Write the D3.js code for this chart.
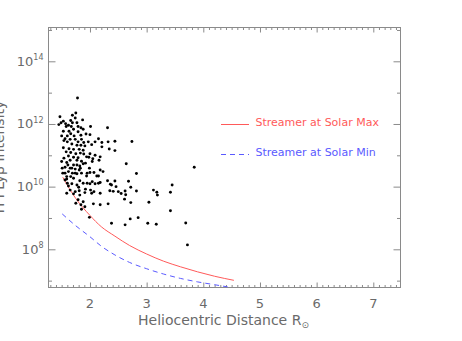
<!DOCTYPE html>
<html>
<head>
<script src="https://cdn.jsdelivr.net/npm/d3@7"></script>
<style>
body {margin: 0; background-color: #fff; overflow: hidden;}
text {font-family: "DejaVu Sans", sans-serif;}
</style>
</head>
<body>
<div id="canvas"></div>
<script>

// x ticks (heliocentric distance) and y ticks (powers of ten)
var xMajor = [2, 3, 4, 5, 6, 7];
var yMajorExp = [8, 10, 12, 14];
var yMinorExp = [7, 9, 11, 13, 15];

// model curves, log10 of intensity
var maxR    = [1.52, 1.75, 2.0, 2.2, 2.44, 2.7, 3.0, 3.3, 3.6, 3.9, 4.2, 4.54];
var maxLogI = [10.30, 9.62, 9.08, 8.72, 8.42, 8.12, 7.85, 7.62, 7.44, 7.28, 7.14, 7.01];
var minR    = [1.51, 1.75, 2.0, 2.2, 2.44, 2.7, 3.0, 3.3, 3.6, 3.9, 4.2, 4.43];
var minLogI = [9.13, 8.75, 8.40, 8.10, 7.82, 7.58, 7.38, 7.21, 7.07, 6.96, 6.87, 6.80];

// observations: [distance, log10 intensity]
var obs = [
[1.78,12.83],[1.75,12.35],[1.69,12.28],[1.47,12.23],[1.74,12.19],[1.87,12.13],[1.66,12.11],[1.53,12.09],
[1.49,12.04],[1.57,12.01],[1.69,12.04],[1.77,12.04],[1.45,11.98],[1.62,11.96],[1.58,11.92],[1.67,11.92],
[1.79,11.92],[1.84,11.88],[2.01,11.92],[2.31,11.88],[1.71,11.83],[1.88,11.83],[1.53,11.77],[1.63,11.77],
[1.79,11.75],[1.66,11.69],[1.93,11.68],[1.50,11.62],[1.60,11.62],[1.72,11.62],[1.84,11.64],[2.00,11.66],
[1.56,11.53],[1.65,11.51],[1.74,11.51],[1.85,11.51],[2.15,11.53],[2.21,11.41],[2.09,11.43],[1.97,11.43],
[1.89,11.41],[1.79,11.43],[1.60,11.43],[1.54,11.47],[1.68,11.36],[1.77,11.32],[1.84,11.32],[1.91,11.30],
[2.03,11.34],[2.32,11.43],[2.44,11.45],[2.44,11.15],[2.21,11.27],[1.53,11.24],[1.63,11.21],[1.71,11.19],
[1.81,11.19],[1.88,11.16],[1.58,11.11],[1.66,11.09],[1.75,11.05],[1.89,11.04],[2.00,11.05],[2.09,11.00],
[2.18,10.95],[1.62,10.98],[1.71,10.94],[1.79,10.92],[1.94,10.95],[2.05,10.89],[2.16,10.84],[1.65,10.84],
[1.77,10.84],[1.85,10.81],
[1.50,10.80],[1.59,10.77],[1.71,10.69],[1.82,10.66],[1.88,10.73],[1.56,10.62],[1.65,10.59],[1.74,10.56],
[1.81,10.53],[1.62,10.48],[1.52,10.43],[1.69,10.43],[1.77,10.41],[1.85,10.43],[2.00,10.45],[2.18,10.53],
[2.23,10.48],[1.59,10.32],[1.66,10.32],[1.94,10.34],[2.15,10.34],[1.56,10.21],[1.82,10.19],[1.88,10.11],
[2.00,10.09],[2.09,10.09],[2.18,10.13],[2.31,10.19],[2.38,10.05],[2.46,10.00],[1.60,10.11],[1.68,10.09],
[1.77,10.05],[1.65,9.89],[1.74,9.84],[1.81,9.87],[1.91,9.81],[2.03,9.79],[2.18,9.79],[2.35,9.87],
[2.50,9.84],[1.59,9.79],[1.71,9.77],[1.82,9.73],[1.79,9.58],[1.75,9.47],[1.88,9.52],[1.84,9.42],
[1.91,9.36],[2.06,9.45],[2.18,9.42],[2.32,9.45],[1.85,9.28],[1.99,9.02],[2.38,8.83],
[1.83,11.07],[1.98,10.94],[1.54,10.91],[2.04,10.80],[1.61,10.69],[1.77,10.69],[1.92,10.75],[1.51,10.59],
[1.68,10.59],[1.83,10.59],[1.99,10.59],[1.56,10.43],[1.74,10.43],[1.95,10.43],[2.07,10.45],[2.12,10.34],
[1.59,10.24],[1.71,10.27],[1.95,10.11],[2.04,10.16],[2.15,10.11],[2.36,10.08],[1.62,10.02],[1.80,9.98],
[1.92,9.92],[2.01,9.89],[2.07,9.84],
[2.74,11.44],[2.34,11.20],[2.64,10.73],[2.82,10.42],[2.44,10.18],[2.68,10.17],[2.72,9.98],[3.45,10.05],
[2.41,9.85],[2.55,9.78],[2.62,9.86],[2.63,9.74],[2.82,9.86],[3.12,9.89],[3.18,9.82],[3.19,9.73],
[3.42,9.82],[2.61,9.60],[2.72,9.49],[3.04,9.50],[3.42,9.23],[2.71,8.97],[2.85,9.01],[2.62,8.78],
[3.02,8.83],[3.17,8.80],[3.69,8.84],[3.84,10.62],[3.72,8.14]
];

var legendNames = ["Streamer at Solar Max", "Streamer at Solar Min"];

var width = 462, height = 341;
var textColor = "#6a6a6a", lineColor = "#8a8a8a";
var red = "#ff5a5a", blue = "#5a5aff";

var svg = d3.select("#canvas").append("svg")
        .attr("width", width)
        .attr("height", height);

var x = d3.scaleLinear().domain([1.268, 7.48]).range([48.5, 400.5]);
var y = d3.scaleLog().domain([Math.pow(10, 6.781), Math.pow(10, 15.079)]).range([287.5, 27.5]);

var xMinor = d3.range(13, 75).map(function (d) { return d / 10; })
        .filter(function (d) { return xMajor.indexOf(d) < 0; });
var yMajor = yMajorExp.map(function (e) { return Math.pow(10, e); });
var yMinor = yMinorExp.map(function (e) { return Math.pow(10, e); });

function styleAxis(g) {
    g.select(".domain").remove();
    g.selectAll("line").attr("stroke", lineColor);
    g.selectAll("text").remove();
}

// ticks on all four sides, pointing inward
svg.append("g").attr("transform", "translate(0,287.5)")
        .call(d3.axisBottom(x).tickValues(xMajor).tickSize(-5)).call(styleAxis);
svg.append("g").attr("transform", "translate(0,287.5)")
        .call(d3.axisBottom(x).tickValues(xMinor).tickSize(-2.5)).call(styleAxis);
svg.append("g").attr("transform", "translate(0,27.5)")
        .call(d3.axisTop(x).tickValues(xMajor).tickSize(-5)).call(styleAxis);
svg.append("g").attr("transform", "translate(0,27.5)")
        .call(d3.axisTop(x).tickValues(xMinor).tickSize(-2.5)).call(styleAxis);
svg.append("g").attr("transform", "translate(48.5,0)")
        .call(d3.axisLeft(y).tickValues(yMajor).tickSize(-7)).call(styleAxis);
svg.append("g").attr("transform", "translate(48.5,0)")
        .call(d3.axisLeft(y).tickValues(yMinor).tickSize(-3.5)).call(styleAxis);
svg.append("g").attr("transform", "translate(400.5,0)")
        .call(d3.axisRight(y).tickValues(yMajor).tickSize(-7)).call(styleAxis);
svg.append("g").attr("transform", "translate(400.5,0)")
        .call(d3.axisRight(y).tickValues(yMinor).tickSize(-3.5)).call(styleAxis);

svg.append("rect")
        .attr("x", 48.5).attr("y", 27.5)
        .attr("width", 352).attr("height", 260)
        .attr("fill", "none").attr("stroke", lineColor);

// tick labels
svg.selectAll(".xlab").data(xMajor).enter().append("text")
        .attr("x", function (d) { return x(d); })
        .attr("y", 307.5)
        .attr("text-anchor", "middle")
        .attr("font-size", "13px")
        .attr("fill", textColor)
        .text(function (d) { return d; });

var ylab = svg.selectAll(".ylab").data(yMajorExp).enter().append("text")
        .attr("x", 43.5)
        .attr("y", function (d) { return y(Math.pow(10, d)) + 4.5; })
        .attr("text-anchor", "end")
        .attr("font-size", "13px")
        .attr("fill", textColor)
        .text("10");
ylab.append("tspan")
        .attr("dy", -5.7)
        .attr("font-size", "8px")
        .text(function (d) { return d; });

// axis titles
var xt = svg.append("text")
        .attr("x", 223.5).attr("y", 325)
        .attr("text-anchor", "middle")
        .attr("font-size", "14px")
        .attr("fill", textColor)
        .text("Heliocentric Distance R");
xt.append("tspan").attr("dy", 3).attr("font-size", "9px").text("\u2299");

svg.append("text")
        .attr("transform", "translate(3.5,157) rotate(-90)")
        .attr("text-anchor", "middle")
        .attr("font-size", "14px")
        .attr("fill", textColor)
        .text("H I Ly\u03b2 Intensity");

// curves
var line = d3.line()
        .x(function (d) { return x(d[0]); })
        .y(function (d) { return y(Math.pow(10, d[1])); })
        .curve(d3.curveMonotoneX);

svg.append("path")
        .datum(maxR.map(function (r, i) { return [r, maxLogI[i]]; }))
        .attr("d", line)
        .attr("fill", "none")
        .attr("stroke", red)
        .attr("stroke-width", 1);

svg.append("path")
        .datum(minR.map(function (r, i) { return [r, minLogI[i]]; }))
        .attr("d", line)
        .attr("fill", "none")
        .attr("stroke", blue)
        .attr("stroke-width", 1)
        .attr("stroke-dasharray", "5,4");

// data points
svg.selectAll("circle").data(obs).enter().append("circle")
        .attr("cx", function (d) { return x(d[0]); })
        .attr("cy", function (d) { return y(Math.pow(10, d[1])); })
        .attr("r", 1.45)
        .attr("fill", "black");

// legend
var legendY = [124.5, 154.5];
var legendColors = [red, blue];
legendNames.forEach(function (name, i) {
    svg.append("line")
            .attr("x1", 221).attr("x2", 249)
            .attr("y1", legendY[i]).attr("y2", legendY[i])
            .attr("stroke", legendColors[i])
            .attr("stroke-dasharray", i == 1 ? "5,4" : null);
    svg.append("text")
            .attr("x", 255.5).attr("y", legendY[i] + 1.5)
            .attr("font-size", "11px")
            .attr("fill", legendColors[i])
            .text(name);
});

</script>
</body>
</html>
